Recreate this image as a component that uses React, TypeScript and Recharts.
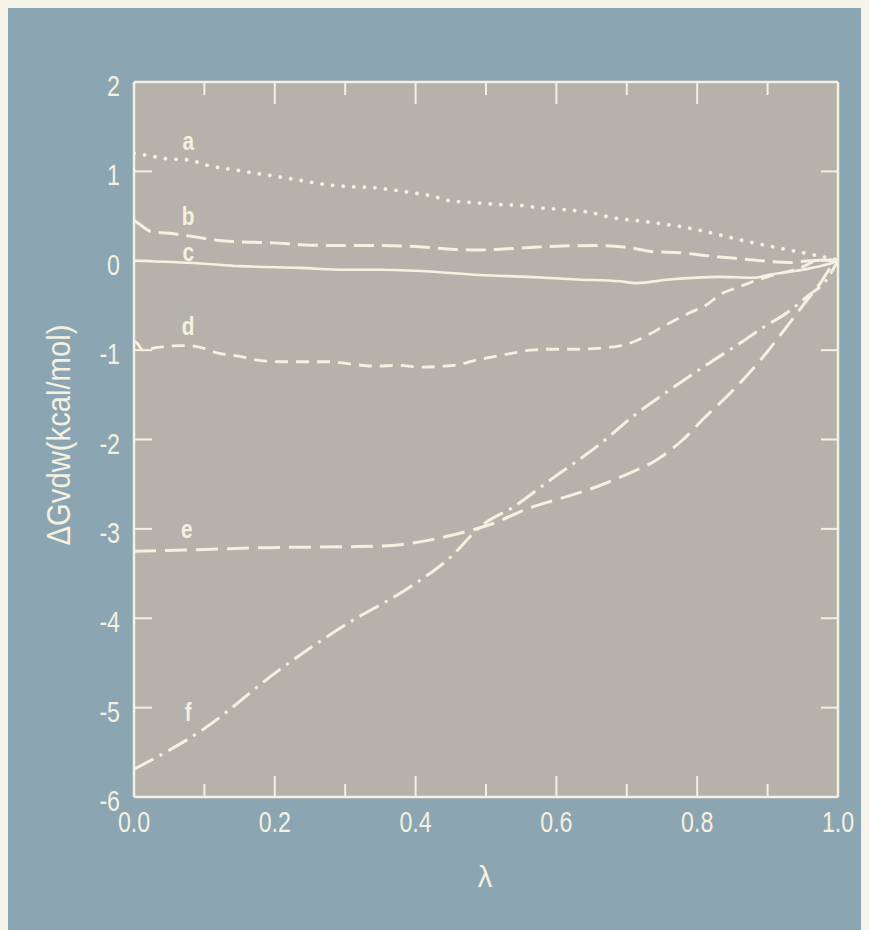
import { LineChart, Line, XAxis, YAxis, CartesianGrid, ReferenceDot } from "recharts";

// λ positions and ΔG values (kcal/mol), one pair of arrays per curve
const LAMBDA_A = [0, 0.011, 0.047, 0.075, 0.108, 0.141, 0.172, 0.205, 0.236, 0.274, 0.304, 0.335, 0.36, 0.388, 0.42, 0.45, 0.484, 0.515, 0.548, 0.58, 0.615, 0.648, 0.68, 0.714, 0.785, 0.88, 0.95, 1.0];
const DG_A = [1.2, 1.19, 1.14, 1.13, 1.06, 1.02, 0.98, 0.94, 0.9, 0.85, 0.83, 0.82, 0.8, 0.77, 0.73, 0.67, 0.65, 0.63, 0.62, 0.59, 0.57, 0.54, 0.48, 0.45, 0.37, 0.2, 0.09, 0.01];

const LAMBDA_B = [0, 0.004, 0.027, 0.047, 0.084, 0.118, 0.155, 0.2, 0.236, 0.283, 0.35, 0.4, 0.45, 0.49, 0.52, 0.59, 0.66, 0.7, 0.74, 0.775, 0.81, 0.85, 0.89, 0.93, 0.96, 1.0];
const DG_B = [0.45, 0.43, 0.32, 0.31, 0.27, 0.23, 0.21, 0.2, 0.18, 0.17, 0.17, 0.16, 0.13, 0.12, 0.13, 0.16, 0.17, 0.15, 0.1, 0.09, 0.06, 0.03, 0.0, -0.02, 0.0, 0.01];

const LAMBDA_C = [0, 0.094, 0.15, 0.236, 0.3, 0.35, 0.42, 0.49, 0.56, 0.63, 0.69, 0.714, 0.76, 0.83, 0.88, 0.9, 0.95, 0.985, 1.0];
const DG_C = [0.0, -0.03, -0.06, -0.08, -0.1, -0.1, -0.12, -0.16, -0.18, -0.21, -0.23, -0.25, -0.21, -0.18, -0.19, -0.16, -0.1, -0.04, 0.0];

const LAMBDA_D = [0, 0.004, 0.013, 0.033, 0.065, 0.08, 0.094, 0.118, 0.15, 0.183, 0.212, 0.25, 0.278, 0.311, 0.345, 0.374, 0.406, 0.439, 0.463, 0.482, 0.506, 0.534, 0.563, 0.59, 0.624, 0.66, 0.705, 0.73, 0.76, 0.79, 0.814, 0.832, 0.857, 0.88, 0.9, 0.946, 0.975, 1.0];
const DG_D = [-0.9, -0.92, -1.0, -0.97, -0.95, -0.95, -0.97, -1.03, -1.07, -1.12, -1.13, -1.13, -1.13, -1.16, -1.18, -1.17, -1.19, -1.18, -1.16, -1.12, -1.08, -1.04, -1.0, -0.99, -0.99, -0.98, -0.92, -0.83, -0.7, -0.58, -0.49, -0.38, -0.3, -0.23, -0.18, -0.08, 0.01, 0.0];

const LAMBDA_E = [0, 0.1, 0.19, 0.3, 0.36, 0.41, 0.457, 0.51, 0.56, 0.61, 0.66, 0.7, 0.74, 0.78, 0.81, 0.847, 0.89, 0.927, 0.956, 0.975, 0.99, 1.0];
const DG_E = [-3.25, -3.23, -3.21, -3.2, -3.19, -3.14, -3.06, -2.94, -2.77, -2.65, -2.52, -2.39, -2.24, -2.0, -1.76, -1.48, -1.11, -0.74, -0.44, -0.25, -0.07, 0.0];

const LAMBDA_F = [0, 0.097, 0.206, 0.297, 0.392, 0.445, 0.496, 0.54, 0.585, 0.67, 0.709, 0.751, 0.818, 0.865, 0.893, 0.928, 0.956, 0.984, 1.0];
const DG_F = [-5.69, -5.25, -4.58, -4.09, -3.65, -3.35, -2.95, -2.75, -2.49, -2.0, -1.74, -1.5, -1.14, -0.9, -0.75, -0.58, -0.4, -0.21, 0.0];

// curve letters and where they sit
const CURVE_NAMES = ["a", "b", "c", "d", "e", "f"];
const NAME_LAMBDA = [0.077, 0.077, 0.077, 0.077, 0.075, 0.077];
const NAME_DG = [1.33, 0.49, 0.09, -0.74, -3.01, -5.06];

const X_TICKS = [0, 0.1, 0.2, 0.3, 0.4, 0.5, 0.6, 0.7, 0.8, 0.9, 1.0];
const Y_TICKS = [-6, -5, -4, -3, -2, -1, 0, 1, 2];

const BG = "#8ca5b2";
const PLOT_BG = "#b4b2aa";
const INK = "#f4f1e0";
const FONT = "'Liberation Sans', Arial, sans-serif";
const SQUEEZE = 0.8; // the original type is a condensed grotesque

const zip = (xs: number[], ys: number[]) => xs.map((x, i) => ({ x, y: ys[i] }));

const series = [
  { key: "a", data: zip(LAMBDA_A, DG_A), dash: "0.1 10.5", width: 3.8, cap: "round" },
  { key: "b", data: zip(LAMBDA_B, DG_B), dash: "20 8", width: 3 },
  { key: "c", data: zip(LAMBDA_C, DG_C), dash: undefined, width: 2.6 },
  { key: "d", data: zip(LAMBDA_D, DG_D), dash: "13 8", width: 2.8 },
  { key: "e", data: zip(LAMBDA_E, DG_E), dash: "22 9", width: 3 },
  { key: "f", data: zip(LAMBDA_F, DG_F), dash: "22 7 3 7", width: 3 },
];

const isEdge = (v: number) => Math.abs(v) < 1e-6 || Math.abs(v - 1) < 1e-6;
const isMajor = (v: number) => Math.round(v * 10) % 2 === 0;

function Narrow({ x, y, anchor = "middle", size = 29, weight = 400, children }: any) {
  return (
    <text
      transform={`translate(${x},${y}) scale(${SQUEEZE},1)`}
      textAnchor={anchor}
      fill={INK}
      fontSize={size}
      fontWeight={weight}
      fontFamily={FONT}
    >
      {children}
    </text>
  );
}

function BottomTick({ x, y, payload }: any) {
  const v = payload.value;
  return (
    <g>
      {!isEdge(v) && <line x1={x} x2={x} y1={y} y2={y - (isMajor(v) ? 21 : 13)} stroke={INK} strokeWidth={2} />}
      {isMajor(v) && (
        <Narrow x={x} y={y + 35}>
          {v.toFixed(1)}
        </Narrow>
      )}
    </g>
  );
}

function TopTick({ x, y, payload }: any) {
  const v = payload.value;
  if (isEdge(v)) return <g />;
  return <line x1={x} x2={x} y1={y} y2={y + (isMajor(v) ? 22 : 13)} stroke={INK} strokeWidth={2} />;
}

function LeftTick({ x, y, payload }: any) {
  const v = payload.value;
  return (
    <g>
      {v > -6 && v < 2 && <line x1={x} x2={x + 18} y1={y} y2={y} stroke={INK} strokeWidth={2} />}
      <Narrow x={x - 14} y={y + 14} anchor="end">
        {String(v)}
      </Narrow>
    </g>
  );
}

function RightTick({ x, y, payload }: any) {
  const v = payload.value;
  if (v <= -6 || v >= 2) return <g />;
  return <line x1={x} x2={x - 17} y1={y} y2={y} stroke={INK} strokeWidth={2} />;
}

const curveName = (name: string) => (props: any) => {
  const vb = props.viewBox || {};
  return (
    <Narrow x={vb.x} y={vb.y + 8} size={26} weight={700}>
      {name}
    </Narrow>
  );
};

export default function App() {
  return (
    <div style={{ width: 861, height: 922, background: BG, position: "relative" }}>
      <style>{`body{background:#f6f3e9}`}</style>
      <LineChart width={861} height={922} margin={{ top: 64, right: 21, bottom: 73, left: 26 }}>
        <CartesianGrid fill={PLOT_BG} horizontal={false} vertical={false} />
        <XAxis
          dataKey="x"
          type="number"
          domain={[0, 1]}
          ticks={X_TICKS}
          allowDataOverflow
          height={60}
          tickSize={0}
          tickMargin={0}
          tickLine={false}
          axisLine={{ stroke: INK, strokeWidth: 2.5 }}
          tick={<BottomTick />}
          interval={0}
        />
        <XAxis
          xAxisId="top"
          orientation="top"
          dataKey="x"
          type="number"
          domain={[0, 1]}
          ticks={X_TICKS}
          allowDataOverflow
          height={10}
          tickSize={0}
          tickMargin={0}
          tickLine={false}
          axisLine={{ stroke: INK, strokeWidth: 2.5 }}
          tick={<TopTick />}
          interval={0}
        />
        <YAxis
          type="number"
          domain={[-6, 2]}
          ticks={Y_TICKS}
          allowDataOverflow
          width={100}
          tickSize={0}
          tickMargin={0}
          tickLine={false}
          axisLine={{ stroke: INK, strokeWidth: 2.5 }}
          tick={<LeftTick />}
          interval={0}
        />
        <YAxis
          yAxisId="right"
          orientation="right"
          type="number"
          domain={[-6, 2]}
          ticks={Y_TICKS}
          allowDataOverflow
          width={10}
          tickSize={0}
          tickMargin={0}
          tickLine={false}
          axisLine={{ stroke: INK, strokeWidth: 2.5 }}
          tick={<RightTick />}
          interval={0}
        />
        {series.map((s) => (
          <Line
            key={s.key}
            data={s.data}
            dataKey="y"
            type="monotone"
            stroke={INK}
            strokeWidth={s.width}
            strokeDasharray={s.dash}
            strokeLinecap={(s as any).cap ?? "butt"}
            dot={false}
            activeDot={false}
            isAnimationActive={false}
          />
        ))}
        {CURVE_NAMES.map((n, i) => (
          <ReferenceDot
            key={n}
            x={NAME_LAMBDA[i]}
            y={NAME_DG[i]}
            r={0}
            fill="none"
            stroke="none"
            label={{ content: curveName(n) }}
          />
        ))}
        <text x={477} y={879} textAnchor="middle" fill={INK} fontSize={29} fontFamily={FONT}>
          λ
        </text>
        <g transform="translate(62,427) rotate(-90)">
          <text transform={`scale(0.86,1)`} textAnchor="middle" fill={INK} fontSize={34} fontFamily={FONT}>
            ΔGvdw(kcal/mol)
          </text>
        </g>
      </LineChart>
    </div>
  );
}
